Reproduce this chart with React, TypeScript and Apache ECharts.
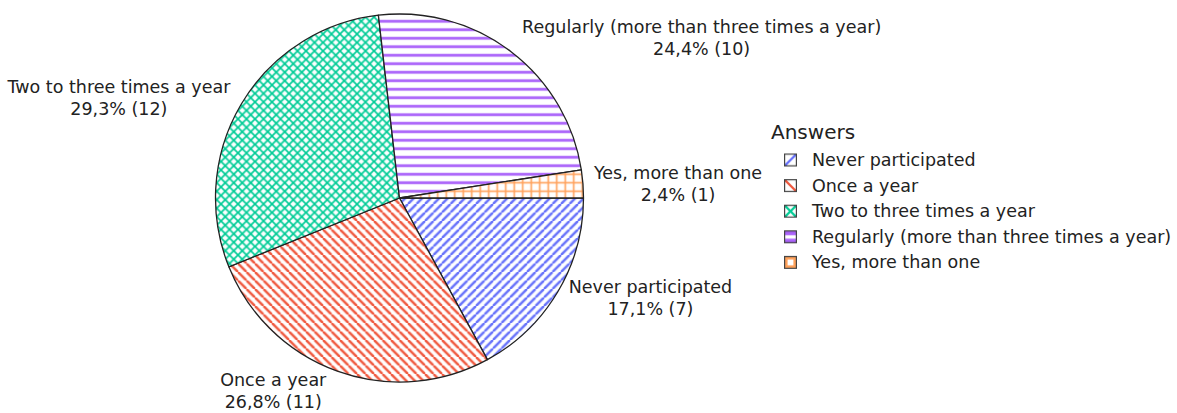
import { useEffect, useRef } from 'react';
import * as echarts from 'echarts';

const answers = [
  'Never participated',
  'Once a year',
  'Two to three times a year',
  'Regularly (more than three times a year)',
  'Yes, more than one',
];
const counts = [7, 11, 12, 10, 1];
const sliceColors = ['#636efa', '#ef553b', '#00cc96', '#ab63fa', '#ffa15a'];
const hatchShapes = ['/', '\\', 'x', '-', '+'];
const legendTitle = 'Answers';

const FONT = "Verdana, 'DejaVu Sans', sans-serif";
const TEXT_COLOR = '#222';
const PIE_CENTER = [399.5, 198];
const PIE_RADIUS = 184;
const TILE = 8.5;

// One repeating tile of the hatch fill used inside a slice.
function hatchTile(shape: string, color: string) {
  const s = 4;
  const n = TILE;
  const c = document.createElement('canvas');
  c.width = Math.round(n * s);
  c.height = Math.round(n * s);
  const g = c.getContext('2d')!;
  g.scale(s, s);
  g.fillStyle = '#fff';
  g.fillRect(0, 0, n, n);
  g.strokeStyle = color;
  g.fillStyle = color;
  const diag = (up: boolean, w: number) => {
    g.lineWidth = w;
    for (const k of [-n, 0, n]) {
      g.beginPath();
      if (up) {
        g.moveTo(k, n);
        g.lineTo(k + n, 0);
      } else {
        g.moveTo(k, 0);
        g.lineTo(k + n, n);
      }
      g.stroke();
    }
  };
  if (shape === '/') diag(true, 2.4);
  else if (shape === '\\') diag(false, 2.4);
  else if (shape === 'x') {
    diag(true, 1.7);
    diag(false, 1.7);
  } else if (shape === '-') {
    g.fillRect(0, n / 2 - 1.3, n, 2.6);
  } else if (shape === '+') {
    g.fillRect(0, n / 2 - 0.85, n, 1.7);
    g.fillRect(n / 2 - 0.85, 0, 1.7, n);
  }
  return c;
}

// Small framed swatch for the legend, drawn on the left of a wider transparent box.
function legendSwatch(shape: string, color: string) {
  const s = 4;
  const W = 23;
  const H = 13;
  const c = document.createElement('canvas');
  c.width = W * s;
  c.height = H * s;
  const g = c.getContext('2d')!;
  g.scale(s, s);
  const x0 = 0.6;
  const y0 = 0.6;
  const sz = 11.8;
  g.save();
  g.beginPath();
  g.rect(x0, y0, sz, sz);
  g.clip();
  g.fillStyle = '#fff';
  g.fillRect(x0, y0, sz, sz);
  g.strokeStyle = color;
  g.fillStyle = color;
  g.lineWidth = 2.2;
  if (shape === '/' || shape === 'x') {
    g.beginPath();
    g.moveTo(x0, y0 + sz);
    g.lineTo(x0 + sz, y0);
    g.stroke();
  }
  if (shape === '\\' || shape === 'x') {
    g.beginPath();
    g.moveTo(x0, y0);
    g.lineTo(x0 + sz, y0 + sz);
    g.stroke();
  }
  if (shape === '-') {
    g.fillRect(x0, y0, sz, 4.3);
    g.fillRect(x0, y0 + 7.8, sz, 4);
  }
  if (shape === '+') {
    g.fillRect(x0, y0, sz, sz);
    g.fillStyle = '#fff';
    g.fillRect(x0 + 3, y0 + 3, sz - 6, sz - 6);
  }
  g.restore();
  g.strokeStyle = '#444';
  g.lineWidth = 1.2;
  g.strokeRect(x0, y0, sz, sz);
  return c.toDataURL();
}

const total = counts.reduce((a, b) => a + b, 0);
const pctText = (v: number) => ((v / total) * 100).toFixed(1).replace('.', ',');

// Mid angle of every slice (clockwise from 3 o'clock, screen coordinates).
const midAngles = counts.map((v, i) => {
  const before = counts.slice(0, i).reduce((a, b) => a + b, 0);
  return ((before + v / 2) / total) * Math.PI * 2;
});

export default function App() {
  const ref = useRef<HTMLDivElement>(null);

  useEffect(() => {
    document.body.style.margin = '0';
    const chart = echarts.init(ref.current!, undefined, { renderer: 'svg' });

    const data = answers.map((name, i) => ({
      name,
      value: counts[i],
      itemStyle: {
        color: {
          image: hatchTile(hatchShapes[i], sliceColors[i]),
          imageWidth: TILE,
          imageHeight: TILE,
          repeat: 'repeat',
        },
      },
    }));

    chart.setOption({
      animation: false,
      title: {
        text: legendTitle,
        left: 771,
        top: 122,
        padding: 0,
        textStyle: { fontFamily: FONT, fontSize: 20, fontWeight: 'normal', color: TEXT_COLOR },
      },
      legend: {
        orient: 'vertical',
        left: 784,
        top: 150,
        padding: 0,
        itemWidth: 23,
        itemHeight: 13,
        itemGap: 5.6,
        selectedMode: false,
        textStyle: { fontFamily: FONT, fontSize: 17.5, color: TEXT_COLOR, lineHeight: 20 },
        data: answers.map((name, i) => ({
          name,
          icon: 'image://' + legendSwatch(hatchShapes[i], sliceColors[i]),
        })),
      },
      series: [
        {
          type: 'pie',
          center: PIE_CENTER,
          radius: PIE_RADIUS,
          startAngle: 0,
          clockwise: true,
          avoidLabelOverlap: false,
          emphasis: { disabled: true },
          itemStyle: { borderColor: '#222', borderWidth: 1.3 },
          label: {
            show: true,
            position: 'outside',
            fontFamily: FONT,
            fontSize: 17.5,
            lineHeight: 22,
            color: TEXT_COLOR,
            formatter: (p: any) => `${p.name}\n${pctText(p.value)}% (${p.value})`,
          },
          labelLine: { show: false },
          // Outside text sits just beyond the rim, pushed away along the slice's mid angle.
          labelLayout: (p: any) => {
            const a = midAngles[p.dataIndex];
            const mx = PIE_RADIUS * Math.cos(a);
            const my = PIE_RADIUS * Math.sin(a);
            let dx = p.labelRect.width / 2;
            let dy = p.labelRect.height / 2;
            if (mx < 0) dx = -dx;
            if (my < 0) dy = -dy;
            const ox = dx + (Math.abs(dy) * (dx > 0 ? 1 : -1)) / 2;
            const oy = dy / (1 + (mx * mx) / (my * my));
            return {
              x: PIE_CENTER[0] + mx + ox,
              y: PIE_CENTER[1] + my + oy,
              align: 'center',
              verticalAlign: 'middle',
            };
          },
          data,
        },
      ],
    });

    return () => chart.dispose();
  }, []);

  return <div ref={ref} style={{ width: 1177, height: 413 }} />;
}
